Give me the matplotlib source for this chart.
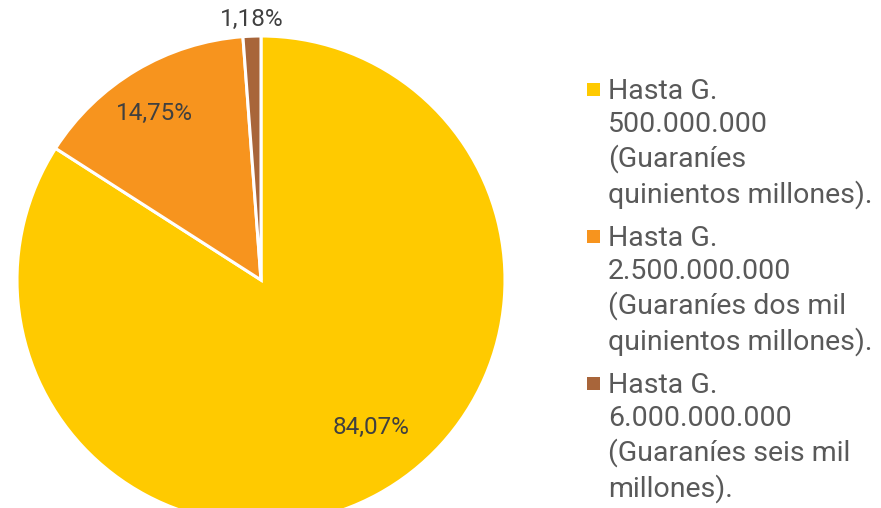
import numpy as np
import matplotlib.pyplot as plt
from matplotlib.patches import Rectangle

plt.rcParams['font.family'] = ['Roboto', 'DejaVu Sans']

# data
shares = [84.07, 14.75, 1.18]
colors = ['#FFCA00', '#F7941E', '#A8653A']
labels = ['Hasta G.\n500.000.000\n(Guaraníes\nquinientos millones).',
          'Hasta G.\n2.500.000.000\n(Guaraníes dos mil\nquinientos millones).',
          'Hasta G.\n6.000.000.000\n(Guaraníes seis mil\nmillones).']
# distance of each value label from center (fraction of radius) and angle nudge
lab_dist = [0.755, 0.81, 1.07]
lab_shift = [8, 2, 0]

W, H = 881, 508
fig = plt.figure(figsize=(W / 100, H / 100), dpi=100)
ax = fig.add_axes([0, 0, 1, 1])

cx, cy, r = 261, H - 280, 244
wedges, _ = ax.pie(shares, colors=colors, startangle=90, counterclock=False,
                   center=(cx, cy), radius=r, frame=True,
                   wedgeprops=dict(edgecolor='white', linewidth=2.2))
ax.set_xlim(0, W)
ax.set_ylim(0, H)
ax.set_aspect('equal')
ax.axis('off')

for w, v, d, s in zip(wedges, shares, lab_dist, lab_shift):
    ang = np.deg2rad((w.theta1 + w.theta2) / 2 + s)
    x = cx + d * r * np.cos(ang)
    y = cy + d * r * np.sin(ang)
    ax.text(x, y, f'{v:.2f}%'.replace('.', ','), ha='center', va='center',
            fontsize=17.5, color='#404040')

# legend, drawn by hand
tops = [78, 225, 372]
for t, c, lab in zip(tops, colors, labels):
    fig.text(608 / W, 1 - t / H, lab, ha='left', va='top', fontsize=20.5,
             color='#595959', linespacing=1.29)
    fig.add_artist(Rectangle((587 / W, 1 - (t + 18) / H), 13 / W, 13 / H,
                             transform=fig.transFigure, color=c, lw=0))

fig.savefig('out.png', dpi=100)
